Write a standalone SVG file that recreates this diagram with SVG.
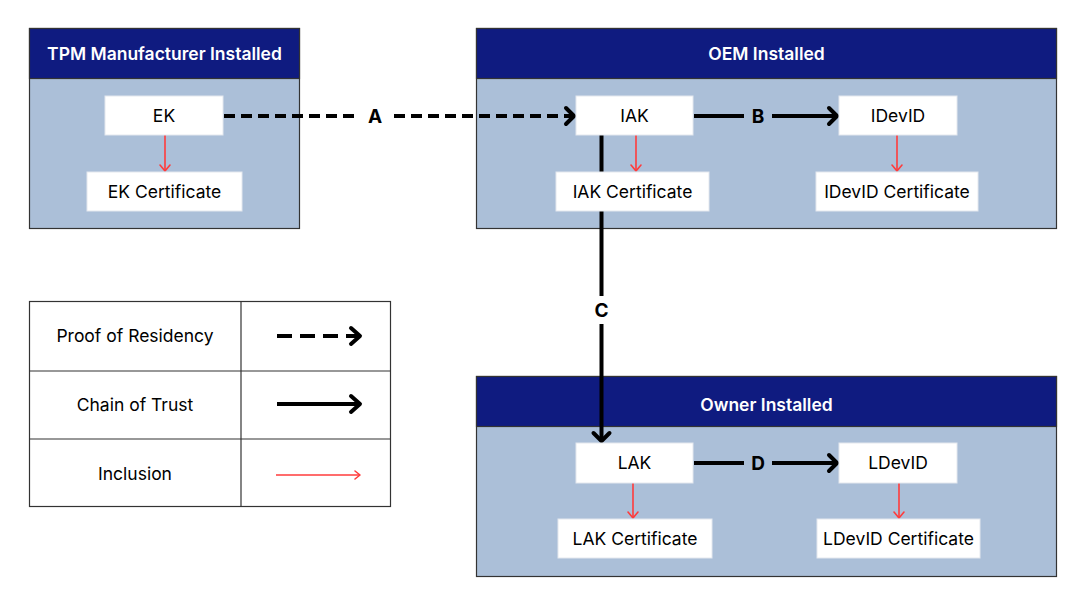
<svg xmlns="http://www.w3.org/2000/svg" width="1083" height="605" viewBox="0 0 1083 605">
<style>
.grp{fill:#abbfd8;stroke:#333;stroke-width:1.2}
.hdr{fill:#0f1b80;stroke:#333;stroke-width:1.2}
.ht{font-family:Inter,"Liberation Sans",sans-serif;font-size:17.5px;font-weight:600;fill:#fff;text-anchor:middle}
.box{fill:#fff;stroke:#e4e8ee;stroke-width:1}
.t{font-family:Inter,"Liberation Sans",sans-serif;font-size:17.5px;fill:#000;text-anchor:middle}
.lbl{font-family:Inter,"Liberation Sans",sans-serif;font-size:19px;font-weight:700;fill:#000;text-anchor:middle}
.blk{stroke:#000;stroke-width:4;fill:none}
.dash{stroke-dasharray:11 6}
.ldash{stroke-dasharray:15 8}
.head{stroke:#000;stroke-width:4;fill:none;stroke-linecap:round;stroke-linejoin:round}
.red{stroke:#ff3b3b;stroke-width:1.6;fill:none}
.redh{stroke:#ff3b3b;stroke-width:1.6;fill:none;stroke-linecap:round;stroke-linejoin:round}
.leg{fill:#fff;stroke:#333;stroke-width:1.2}
</style>
<rect width="1083" height="605" fill="#fff"/>
<g id="tpm">
<rect class="grp" x="29.5" y="28.5" width="270" height="200"/>
<rect class="hdr" x="29.5" y="28.5" width="270" height="50"/>
<text class="ht" x="164.5" y="59.5">TPM Manufacturer Installed</text>
</g>
<g id="oem">
<rect class="grp" x="476.5" y="28.5" width="580" height="200"/>
<rect class="hdr" x="476.5" y="28.5" width="580" height="50"/>
<text class="ht" x="766.5" y="59.5">OEM Installed</text>
</g>
<g id="owner">
<rect class="grp" x="476.5" y="376.5" width="580" height="200"/>
<rect class="hdr" x="476.5" y="376.5" width="580" height="50"/>
<text class="ht" x="766.5" y="411">Owner Installed</text>
</g>
<g id="connectors">
<line class="red" x1="165" y1="135" x2="165" y2="171"/><polyline class="redh" points="160,165 165,171 170,165"/>
<line class="red" x1="636" y1="135" x2="636" y2="171"/><polyline class="redh" points="631,165 636,171 641,165"/>
<line class="red" x1="897" y1="135" x2="897" y2="171"/><polyline class="redh" points="892,165 897,171 902,165"/>
<line class="red" x1="633" y1="483" x2="633" y2="518"/><polyline class="redh" points="628,512 633,518 638,512"/>
<line class="red" x1="899" y1="483" x2="899" y2="518"/><polyline class="redh" points="894,512 899,518 904,512"/>
<line class="blk dash" x1="224" y1="116" x2="572" y2="116"/>
<polyline class="head" points="566,108 574,116 566,124"/>
<rect x="358" y="104" width="33" height="24" fill="#fff"/>
<text class="lbl" x="375" y="123">A</text>
<line class="blk" x1="694" y1="116" x2="835" y2="116"/>
<polyline class="head" points="829,108 837,116 829,124"/>
<rect x="744" y="104" width="28" height="24" fill="#abbfd8"/>
<text class="lbl" x="758" y="123">B</text>
<line class="blk" x1="601.5" y1="135" x2="601.5" y2="439"/>
<polyline class="head" points="593.5,433 601.5,441 609.5,433"/>
<rect x="590" y="296" width="23" height="28" fill="#fff"/>
<text class="lbl" x="601.5" y="317">C</text>
<line class="blk" x1="694" y1="463" x2="835" y2="463"/>
<polyline class="head" points="829,455 837,463 829,471"/>
<rect x="744" y="451" width="28" height="24" fill="#abbfd8"/>
<text class="lbl" x="758" y="470">D</text>
</g>
<g id="ek"><rect class="box" x="105" y="96" width="118" height="39"/><text class="t" x="164" y="121.5">EK</text></g>
<g id="ekcert"><rect class="box" x="87" y="172" width="155" height="39"/><text class="t" x="164.5" y="197.5">EK Certificate</text></g>
<g id="iak"><rect class="box" x="576" y="96" width="117" height="39"/><text class="t" x="634.5" y="121.5">IAK</text></g>
<g id="iakcert"><rect class="box" x="556" y="172" width="153" height="39"/><text class="t" x="632.5" y="197.5">IAK Certificate</text></g>
<g id="idevid"><rect class="box" x="839" y="96" width="118" height="39"/><text class="t" x="898" y="121.5">IDevID</text></g>
<g id="idevidcert"><rect class="box" x="816" y="172" width="162" height="39"/><text class="t" x="897" y="197.5">IDevID Certificate</text></g>
<g id="lak"><rect class="box" x="576" y="443" width="117" height="40"/><text class="t" x="634.5" y="469">LAK</text></g>
<g id="lakcert"><rect class="box" x="558" y="519" width="154" height="39"/><text class="t" x="635" y="545">LAK Certificate</text></g>
<g id="ldevid"><rect class="box" x="839" y="443" width="118" height="40"/><text class="t" x="898" y="469">LDevID</text></g>
<g id="ldevidcert"><rect class="box" x="817" y="519" width="163" height="39"/><text class="t" x="898.5" y="545">LDevID Certificate</text></g>
<g id="legend">
<rect class="leg" x="29.5" y="301.5" width="361" height="205"/>
<line x1="241" y1="301.5" x2="241" y2="506.5" stroke="#333" stroke-width="1.2"/>
<line x1="29.5" y1="371" x2="390.5" y2="371" stroke="#333" stroke-width="1.2"/>
<line x1="29.5" y1="439" x2="390.5" y2="439" stroke="#333" stroke-width="1.2"/>
<text class="t" x="135" y="342">Proof of Residency</text>
<text class="t" x="135" y="411">Chain of Trust</text>
<text class="t" x="135" y="480">Inclusion</text>
<line class="blk ldash" x1="277" y1="336" x2="358" y2="336"/>
<polyline class="head" points="351,328 360,336 351,344"/>
<line class="blk" x1="277" y1="404" x2="358" y2="404"/>
<polyline class="head" points="351,396 360,404 351,412"/>
<line class="red" x1="276" y1="475" x2="360" y2="475"/>
<polyline class="redh" points="355,471 360,475 355,479"/>
</g>
</svg>
